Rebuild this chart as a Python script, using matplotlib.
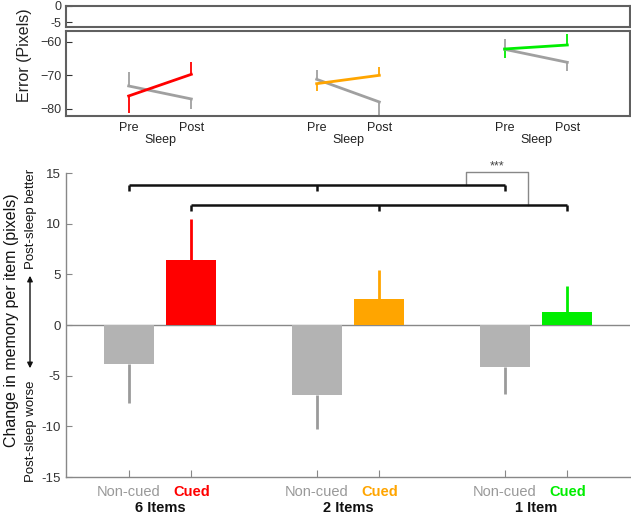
import matplotlib
matplotlib.use("Agg")
import matplotlib.pyplot as plt
from matplotlib.patches import FancyArrowPatch
from matplotlib.transforms import blended_transform_factory

plt.rcParams['font.family'] = ['Liberation Sans', 'DejaVu Sans']

# ---------------- data ----------------
conditions = ['6 Items', '2 Items', '1 Item']
cue_colors = ['#ff0000', '#ffa500', '#00ee00']
noncued_change = [-3.8, -6.9, -4.1]
noncued_change_err = [3.9, 3.4, 2.7]
cued_change = [6.45, 2.6, 1.25]
cued_change_err = [4.0, 2.8, 2.55]

noncued_pre = [-73.2, -71.2, -62.2]
noncued_post = [-77.1, -78.0, -66.1]
cued_pre = [-76.2, -72.5, -62.1]
cued_post = [-69.7, -70.0, -60.9]
noncued_pre_err = [4.1, 2.7, 3.0]
noncued_post_err = [3.0, 4.5, 2.6]
cued_pre_err = [5.2, 2.3, 2.8]
cued_post_err = [3.6, 2.5, 3.4]

noncued_x = [1, 4, 7]
cued_x = [2, 5, 8]
tick_labels = ['Non-cued', 'Cued'] * 3

upper_bracket = {'x': [1, 4, 7], 'y': 13.85}
lower_bracket = {'x': [2, 5, 8], 'y': 11.85}
# --------------------------------------

W, H = 631, 513
fig = plt.figure(figsize=(W / 100, H / 100), dpi=100)

def fx(px):
    return px / W

def fy(py):
    return 1 - py / H

frame_col = '#606060'
gray_line = '#a0a0a0'
gray_bar = '#b3b3b3'
gray_err = '#9a9a9a'

# ---- top small broken panel ----
ax0 = fig.add_axes([fx(66), fy(27), fx(630) - fx(66), (27 - 5.7) / H])
ax0.set_xlim(0, 9)
ax0.set_ylim(-6.5, 0)
ax0.set_yticks([0, -5])
ax0.set_yticklabels(['0', '-5'])
ax0.set_xticks([])
ax0.tick_params(axis='y', direction='in', length=4, labelsize=9, colors='#333333', pad=3)
for s in ax0.spines.values():
    s.set_color(frame_col)
    s.set_linewidth(1.5)

# ---- main top panel ----
ax1 = fig.add_axes([fx(66), fy(116.3), fx(630) - fx(66), (116.3 - 31) / H])
ax1.set_xlim(0, 9)
ax1.set_ylim(-82.3, -56.7)
ax1.set_yticks([-60, -70, -80])
ax1.set_xticks([])
ax1.tick_params(axis='y', direction='in', length=4, labelsize=9, colors='#333333', pad=3)
for s in ax1.spines.values():
    s.set_color(frame_col)
    s.set_linewidth(1.5)

for i in range(3):
    xp, xq = noncued_x[i], cued_x[i]
    # error bars (one-sided)
    ax1.errorbar([xp], [noncued_pre[i]], yerr=[[0], [noncued_pre_err[i]]], fmt='none',
                 ecolor=gray_line, elinewidth=1.3, capsize=0)
    ax1.errorbar([xq], [noncued_post[i]], yerr=[[noncued_post_err[i]], [0]], fmt='none',
                 ecolor=gray_line, elinewidth=1.3, capsize=0)
    ax1.errorbar([xp], [cued_pre[i]], yerr=[[cued_pre_err[i]], [0]], fmt='none',
                 ecolor=cue_colors[i], elinewidth=1.3, capsize=0)
    ax1.errorbar([xq], [cued_post[i]], yerr=[[0], [cued_post_err[i]]], fmt='none',
                 ecolor=cue_colors[i], elinewidth=1.3, capsize=0)
    ax1.plot([xp, xq], [noncued_pre[i], noncued_post[i]], color=gray_line, lw=2)
    ax1.plot([xp, xq], [cued_pre[i], cued_post[i]], color=cue_colors[i], lw=2)
    # Pre / Post / Sleep labels
    tr = blended_transform_factory(ax1.transData, fig.transFigure)
    ax1.text(xp, fy(128), 'Pre', transform=tr, ha='center', va='center', fontsize=9, color='#222222')
    ax1.text(xq, fy(128), 'Post', transform=tr, ha='center', va='center', fontsize=9, color='#222222')
    ax1.text((xp + xq) / 2, fy(140), 'Sleep', transform=tr, ha='center', va='center', fontsize=9, color='#222222')

fig.text(fx(25), fy(55), 'Error (Pixels)', rotation=90, ha='center', va='center', fontsize=11.5, color='#222222')

# ---- bar panel ----
ax2 = fig.add_axes([fx(66), fy(477), fx(630) - fx(66), (477 - 173) / H])
ax2.set_xlim(0, 9)
ax2.set_ylim(-15, 15)
ax2.set_yticks([-15, -10, -5, 0, 5, 10, 15])
ax2.set_yticklabels(['-15', '-10', '-5', '0', '5', '10', '15'])
ax2.spines['top'].set_visible(False)
ax2.spines['right'].set_visible(False)
for s in ['left', 'bottom']:
    ax2.spines[s].set_color('#888888')
    ax2.spines[s].set_linewidth(1)
ax2.tick_params(axis='y', direction='in', length=4, labelsize=9.5, colors='#888888',
                labelcolor='#333333', pad=4)
ax2.tick_params(axis='x', direction='in', length=5, labelsize=10.5, colors='#888888', pad=6)

ax2.axhline(0, color='#888888', lw=1, zorder=1)

ax2.bar(noncued_x, noncued_change, width=0.8, color=gray_bar, zorder=2)
ax2.bar(cued_x, cued_change, width=0.8, color=cue_colors, zorder=2)
for i in range(3):
    ax2.errorbar([noncued_x[i]], [noncued_change[i]], yerr=[[noncued_change_err[i]], [0]],
                 fmt='none', ecolor=gray_err, elinewidth=2, capsize=0, zorder=3)
    ax2.errorbar([cued_x[i]], [cued_change[i]], yerr=[[0], [cued_change_err[i]]],
                 fmt='none', ecolor=cue_colors[i], elinewidth=2, capsize=0, zorder=3)

xt = []
for a, b in zip(noncued_x, cued_x):
    xt += [a, b]
ax2.set_xticks(xt)
ax2.set_xticklabels(tick_labels)
for j, lab in enumerate(ax2.get_xticklabels()):
    if j % 2 == 0:
        lab.set_color('#999999')
    else:
        lab.set_color(cue_colors[j // 2])
        lab.set_fontweight('bold')

trx = blended_transform_factory(ax2.transData, fig.transFigure)
for i in range(3):
    ax2.text((noncued_x[i] + cued_x[i]) / 2, fy(507.5), conditions[i], transform=trx,
             ha='center', va='center', fontsize=10.5, fontweight='bold', color='#111111')

# significance brackets
for br in (upper_bracket, lower_bracket):
    xs = br['x']
    y = br['y']
    ax2.plot([xs[0], xs[-1]], [y, y], color='#111111', lw=1.8, clip_on=False, zorder=4,
             solid_capstyle='butt')
    for x in xs:
        ax2.plot([x, x], [y, y - 0.6], color='#111111', lw=1.8, clip_on=False, zorder=4,
                 solid_capstyle='butt')

cx1, cx2, ctop = 6.38, 7.38, 15.07
ax2.plot([cx1, cx1, cx2, cx2], [upper_bracket['y'], ctop, ctop, lower_bracket['y']],
         color='#888888', lw=1, clip_on=False, zorder=3)
ax2.text((cx1 + cx2) / 2, 15.6, '***', ha='center', va='center', fontsize=9,
         color='#444444', clip_on=False)

# left annotations
fig.text(fx(12), fy(320), 'Change in memory per item (pixels)', rotation=90,
         ha='center', va='center', fontsize=11.5, color='#111111')
fig.text(fx(31), fy(219), 'Post-sleep better', rotation=90, ha='center', va='center',
         fontsize=9.5, color='#111111')
fig.text(fx(31), fy(431), 'Post-sleep worse', rotation=90, ha='center', va='center',
         fontsize=9.5, color='#111111')
arr = FancyArrowPatch((fx(30), fy(371)), (fx(30), fy(273)), transform=fig.transFigure,
                      arrowstyle='<|-|>', mutation_scale=8, color='#111111', lw=1)
fig.patches.append(arr)

fig.savefig('out.png', dpi=100)
